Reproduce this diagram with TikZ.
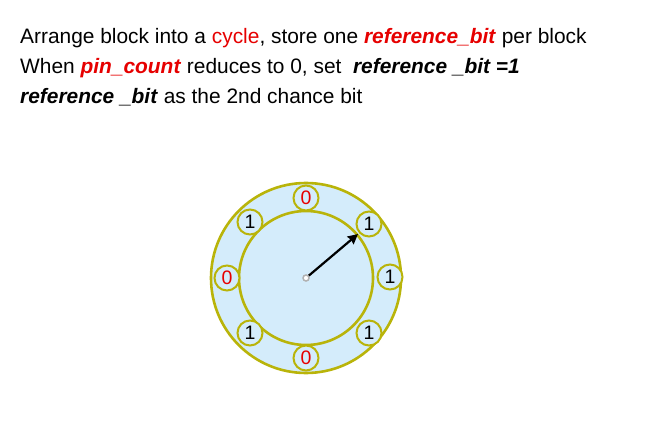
\documentclass[tikz,border=0pt]{standalone}
\usepackage{fontspec}
\setmainfont{Liberation Sans}
\usetikzlibrary{arrows.meta}
\definecolor{ringc}{RGB}{185,180,10}
\definecolor{fillc}{RGB}{212,236,251}
\definecolor{redc}{RGB}{230,0,0}
\begin{document}
\begin{tikzpicture}[x=1pt,y=-1pt,
  txt/.style={anchor=base west,inner sep=0pt,font=\fontsize{20.9}{24}\selectfont},
  bitc/.style={circle,draw=ringc,line width=2pt,fill=fillc,minimum size=25pt,inner sep=0pt,font=\fontsize{19.5}{22}\selectfont},
  ring/.style={circle,draw=ringc,line width=2.6pt,fill=fillc,inner sep=0pt}]
\useasboundingbox (0,0) rectangle (651,425);
\node[txt] (l1) at (20,44) {Arrange block into a \textcolor{redc}{cycle}, store one \textcolor{redc}{\textbf{\textit{reference\_bit}}} per block};
\node[txt] (l2) at (20,74) {When \textcolor{redc}{\textbf{\textit{pin\_count}}} reduces to 0, set \ \textbf{\textit{reference \_bit =1}}};
\node[txt] (l3) at (20,104) {\textbf{\textit{reference \_bit}} as the 2nd chance bit};
\node[ring,minimum size=190pt] (outer) at (306,278) {};
\node[ring,minimum size=134pt] (inner) at (306,278) {};
\node[bitc] (b0) at (306,198) {\textcolor{redc}{0}};
\node[bitc] (b1) at (250,222) {1};
\node[bitc] (b2) at (369,224) {1};
\node[bitc] (b3) at (227,278) {\textcolor{redc}{0}};
\node[bitc] (b4) at (390,277) {1};
\node[bitc] (b5) at (250,333) {1};
\node[bitc] (b6) at (369,333) {1};
\node[bitc] (b7) at (306,358) {\textcolor{redc}{0}};
\node[circle,draw=gray!60,line width=1.5pt,fill=white,minimum size=6pt,inner sep=0pt] (c) at (306,278) {};
\coordinate (tip) at (358,234);
\draw[line width=2.2pt,-{Stealth[length=10pt,width=10pt,inset=1pt]}] (c) -- (tip);
\end{tikzpicture}
\end{document}
